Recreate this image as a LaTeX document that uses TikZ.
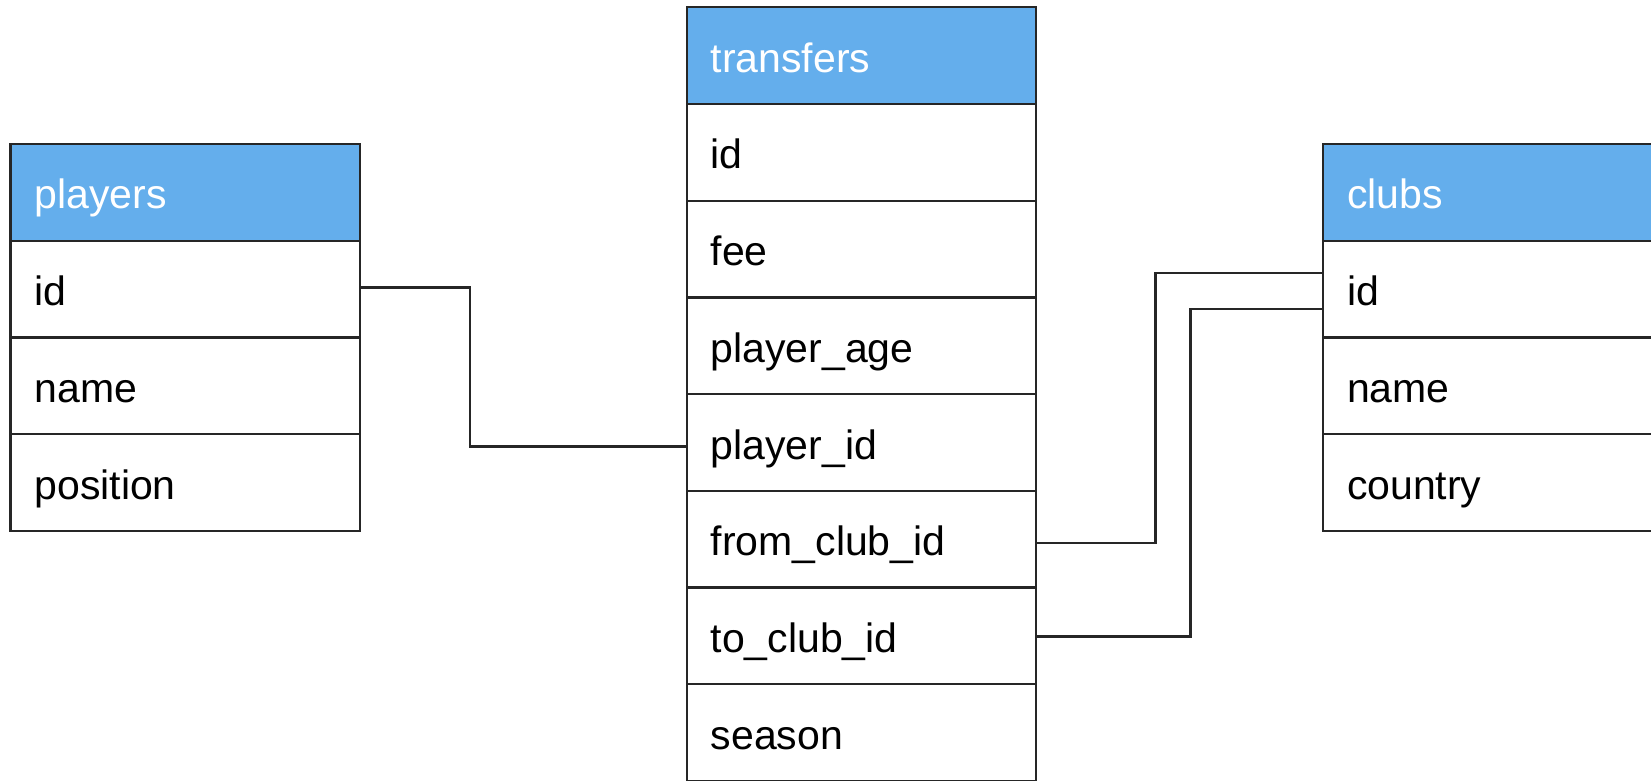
\documentclass[tikz,border=0pt]{standalone}
\usepackage{fontspec}
\setmainfont{Liberation Sans}
\usepackage{tikz}
\usetikzlibrary{positioning}
\definecolor{headblue}{RGB}{100,174,236}
\tikzset{
  tblcell/.style={rectangle, draw=black!85, line width=1.1pt, inner xsep=12pt, inner ysep=0pt,
                  text width=150.75pt, text height=20pt, text depth=3.4pt, minimum height=48.35pt,
                  align=left, outer sep=0pt, font=\fontsize{20.5}{24}\selectfont},
  tblhead/.style={tblcell, fill=headblue, text=white},
  tblrow/.style={tblcell, fill=white, text=black},
  link/.style={draw=black!85, line width=1.1pt},
}

\begin{document}
\begin{tikzpicture}[node distance=0pt]
\useasboundingbox (0,0) rectangle (825.5pt,-390.5pt);
\clip (0,0) rectangle (825.5pt,-390.5pt);

% players table
\node[tblhead, anchor=north west] (pl-head) at (5.25pt,-72pt) {players};
\node[tblrow, below=of pl-head] (pl-id) {id};
\node[tblrow, below=of pl-id] (pl-name) {name};
\node[tblrow, below=of pl-name] (pl-pos) {position};

% transfers table
\node[tblhead, anchor=north west] (tr-head) at (343.35pt,-3.65pt) {transfers};
\node[tblrow, below=of tr-head] (tr-id) {id};
\node[tblrow, below=of tr-id] (tr-fee) {fee};
\node[tblrow, below=of tr-fee] (tr-age) {player\_age};
\node[tblrow, below=of tr-age] (tr-pid) {player\_id};
\node[tblrow, below=of tr-pid] (tr-from) {from\_club\_id};
\node[tblrow, below=of tr-from] (tr-to) {to\_club\_id};
\node[tblrow, below=of tr-to] (tr-season) {season};

% clubs table (runs off the right edge)
\node[tblhead, anchor=north west] (cl-head) at (661.5pt,-72pt) {clubs};
\node[tblrow, below=of cl-head] (cl-id) {id};
\node[tblrow, below=of cl-id] (cl-name) {name};
\node[tblrow, below=of cl-name] (cl-country) {country};

% relations
\draw[link] ([yshift=0.8pt]pl-id.east) -- ++(55pt,0) |- ([yshift=-2pt]tr-pid.west);
\draw[link] ([yshift=-2pt]tr-from.east) -- ++(59.65pt,0) |- ([yshift=8pt]cl-id.west);
\draw[link] ([yshift=-0.3pt]tr-to.east) -- ++(77.15pt,0) |- ([yshift=-10pt]cl-id.west);

\end{tikzpicture}
\end{document}
